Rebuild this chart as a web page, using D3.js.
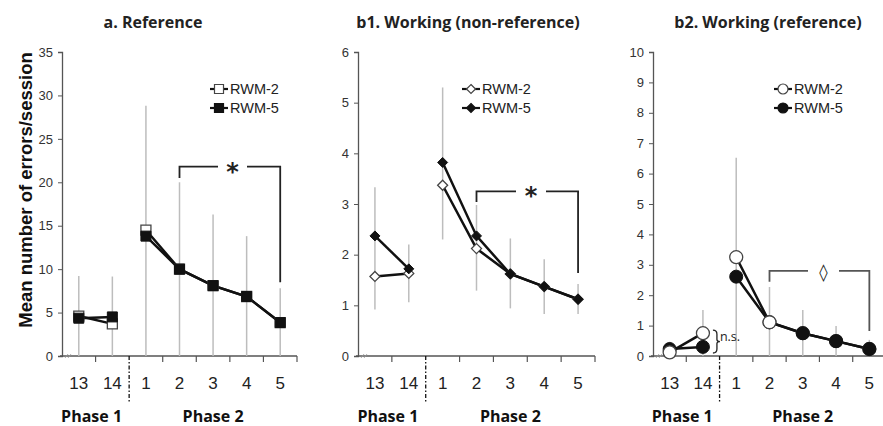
<!DOCTYPE html>
<html>
<head>
<meta charset="utf-8">
<script src="https://cdn.jsdelivr.net/npm/d3@7"></script>
<style>
  body { margin: 0; background: #fff; }
  svg { display: block; }
</style>
</head>
<body>
<svg id="chart"></svg>
<script>
const width = 883;
const height = 426;

// --- data ---
const sessions = ["13", "14", "1", "2", "3", "4", "5"];
const phaseLabels = ["Phase 1", "Phase 2"];
const seriesNames = ["RWM-2", "RWM-5"];

// a. Reference
const refRWM2 = [4.6, 3.7, 14.5, 10.0, 8.1, 6.85, 3.85];
const refRWM5 = [4.35, 4.5, 13.8, 10.0, 8.1, 6.85, 3.85];
const refErrHi = [9.2, 9.15, 28.8, 20.0, 16.3, 13.8, 7.8];
const refErrLo = [0, 0, 0, 0, 0, 0, 0];

// b1. Working (non-reference)
const nonRWM2 = [1.57, 1.63, 3.37, 2.12, 1.62, 1.37, 1.12];
const nonRWM5 = [2.37, 1.72, 3.82, 2.37, 1.62, 1.37, 1.12];
const nonErrHi = [3.33, 2.2, 5.3, 2.98, 2.32, 1.91, 1.42];
const nonErrLo = [0.92, 1.06, 2.3, 1.29, 0.94, 0.83, 0.83];

// b2. Working (reference)
const wrRWM2 = [0.12, 0.75, 3.25, 1.11, 0.75, 0.49, 0.23];
const wrRWM5 = [0.23, 0.3, 2.61, 1.11, 0.75, 0.49, 0.23];
const wrErrHi = [0.47, 1.51, 6.52, 2.27, 1.51, 0.99, 0.53];
const wrErrLo = [0, 0, 0, 0, 0, 0, 0];

const panels = [
  {
    title: "a. Reference", titleX: 153, x0: 62, x1: 297, yMax: 35, yStep: 5,
    rwm2: refRWM2, rwm5: refRWM5, hi: refErrHi, lo: refErrLo,
    marker: "square", legendX: 210, openTop: [],
    bracket: { from: "2", to: "5", top: 21.8, left: 20.5, right: 8.5, sym: "*", gap: [218, 247] }
  },
  {
    title: "b1. Working (non-reference)", titleX: 468, x0: 358, x1: 595, yMax: 6, yStep: 1,
    rwm2: nonRWM2, rwm5: nonRWM5, hi: nonErrHi, lo: nonErrLo,
    marker: "diamond", legendX: 462, openTop: [],
    bracket: { from: "2", to: "5", top: 3.25, left: 3.04, right: 1.64, sym: "*", gap: [516, 546] }
  },
  {
    title: "b2. Working (reference)", titleX: 768, x0: 653, x1: 886, yMax: 10, yStep: 1,
    rwm2: wrRWM2, rwm5: wrRWM5, hi: wrErrHi, lo: wrErrLo,
    marker: "circle", legendX: 774, openTop: [0, 3],
    bracket: { from: "2", to: "5", top: 2.8, left: 2.44, right: 0.82, sym: "\u25CA", gap: [808, 839] }
  }
];

const yTop = 52;
const yBottom = 356;
const sansBold = "'Open Sans', 'Noto Sans', sans-serif";
const arial = "'Liberation Sans', Arial, sans-serif";

const svg = d3.select("#chart")
  .attr("width", width)
  .attr("height", height)
  .style("font-family", arial);

// y axis label shared on the left
svg.append("text")
  .attr("transform", "translate(32,190) rotate(-90)")
  .attr("text-anchor", "middle")
  .attr("font-size", 18.5)
  .attr("font-weight", "bold")
  .attr("fill", "#111")
  .text("Mean number of errors/session");

function markerPath(type, size) {
  if (type === "square") return d3.symbol(d3.symbolSquare, size * size)();
  if (type === "diamond") {
    const h = size / 2;
    return `M0,${-h}L${h},0L0,${h}L${-h},0Z`;
  }
  return d3.symbol(d3.symbolCircle, Math.PI * (size / 2) * (size / 2))();
}

const markerSize = { square: 10, diamond: 10, circle: 13 };

panels.forEach(p => {
  const g = svg.append("g");

  const x = d3.scaleBand().domain(sessions).range([p.x0, p.x1]);
  const y = d3.scaleLinear().domain([0, p.yMax]).range([yBottom, yTop]);
  const cx = s => x(s) + x.bandwidth() / 2;

  // title
  g.append("text")
    .attr("x", p.titleX)
    .attr("y", 28)
    .attr("text-anchor", "middle")
    .attr("font-family", sansBold)
    .attr("font-weight", "bold")
    .attr("font-size", 16)
    .attr("fill", "#222")
    .text(p.title);

  // y axis
  const yAxis = d3.axisLeft(y)
    .tickValues(d3.range(0, p.yMax + 0.001, p.yStep))
    .tickFormat(d3.format("d"))
    .tickSize(4)
    .tickPadding(5);
  const ya = g.append("g")
    .attr("transform", `translate(${p.x0},0)`)
    .call(yAxis);
  ya.select(".domain").attr("stroke", "#555").attr("stroke-width", 1.3);
  ya.selectAll(".tick line").attr("stroke", "#555");
  ya.selectAll(".tick text")
    .attr("font-family", arial)
    .attr("font-size", 13)
    .attr("fill", "#333");

  // x axis line
  g.append("line")
    .attr("x1", p.x0 - 2).attr("x2", p.x1)
    .attr("y1", yBottom).attr("y2", yBottom)
    .attr("stroke", "#555").attr("stroke-width", 1.3);

  // x ticks at band edges (skip the phase boundary, drawn dash-dot below)
  const edges = sessions.map(s => x(s)).concat([p.x1]);
  edges.forEach((ex, i) => {
    if (i === 0 || i === 2) return;
    g.append("line")
      .attr("x1", ex).attr("x2", ex)
      .attr("y1", yBottom).attr("y2", yBottom + 6)
      .attr("stroke", "#555").attr("stroke-width", 1.2);
  });

  // phase separator
  const sepX = x(sessions[2]);
  g.append("line")
    .attr("x1", sepX).attr("x2", sepX)
    .attr("y1", yBottom).attr("y2", 402)
    .attr("stroke", "#111").attr("stroke-width", 1.3)
    .attr("stroke-dasharray", "4,2,1.5,2");

  // axis break marks
  [0, 3].forEach(off => {
    g.append("line")
      .attr("x1", p.x0 + 3 + off).attr("x2", p.x0 + 6 + off)
      .attr("y1", yBottom + 2).attr("y2", yBottom - 2)
      .attr("stroke", "#999").attr("stroke-width", 0.8);
  });

  // session tick labels
  g.selectAll(".xlab")
    .data(sessions)
    .join("text")
    .attr("x", d => cx(d))
    .attr("y", 389)
    .attr("text-anchor", "middle")
    .attr("font-family", arial)
    .attr("font-size", 17)
    .attr("fill", "#222")
    .text(d => d);

  // phase labels
  const phaseX = [
    (cx(sessions[0]) + cx(sessions[1])) / 2 - 4,
    (cx(sessions[2]) + cx(sessions[6])) / 2
  ];
  phaseLabels.forEach((lab, i) => {
    g.append("text")
      .attr("x", phaseX[i])
      .attr("y", 422)
      .attr("text-anchor", "middle")
      .attr("font-family", sansBold)
      .attr("font-weight", "bold")
      .attr("font-size", 16)
      .attr("fill", "#111")
      .text(lab);
  });

  // error bars
  g.selectAll(".err")
    .data(sessions)
    .join("line")
    .attr("x1", d => cx(d)).attr("x2", d => cx(d))
    .attr("y1", (d, i) => y(p.lo[i]))
    .attr("y2", (d, i) => y(p.hi[i]))
    .attr("stroke", "#bdbdbd")
    .attr("stroke-width", 1.5);

  // significance bracket
  const b = p.bracket;
  const bx1 = cx(b.from), bx2 = cx(b.to), by = y(b.top);
  const bColor = p.marker === "circle" ? "#555" : "#222";
  g.append("path")
    .attr("d", `M${bx1},${y(b.left)}V${by}H${b.gap[0]}M${b.gap[1]},${by}H${bx2}V${y(b.right)}`)
    .attr("fill", "none")
    .attr("stroke", bColor)
    .attr("stroke-width", 1.8);
  g.append("text")
    .attr("x", (b.gap[0] + b.gap[1]) / 2)
    .attr("y", b.sym === "*" ? by + 13 : by + 7)
    .attr("text-anchor", "middle")
    .attr("font-family", "'DejaVu Sans', sans-serif")
    .attr("font-weight", b.sym === "*" ? "bold" : "normal")
    .attr("font-size", b.sym === "*" ? 24 : 17)
    .attr("fill", "#222")
    .text(b.sym);

  // lines, split by phase
  const line = d3.line()
    .x(d => cx(d.s))
    .y(d => y(d.v));
  const segs = [[0, 2], [2, 7]];
  [p.rwm2, p.rwm5].forEach(vals => {
    segs.forEach(([a, z]) => {
      const pts = sessions.slice(a, z).map((s, k) => ({ s, v: vals[a + k] }));
      g.append("path")
        .attr("d", line(pts))
        .attr("fill", "none")
        .attr("stroke", "#111")
        .attr("stroke-width", 2.5);
    });
  });

  // markers
  const mPath = markerPath(p.marker, markerSize[p.marker]);
  function drawMarker(s, v, open) {
    g.append("path")
      .attr("d", mPath)
      .attr("transform", `translate(${cx(s)},${y(v)})`)
      .attr("fill", open ? "#fff" : "#111")
      .attr("stroke", open ? "#444" : "#111")
      .attr("stroke-width", open ? 1.3 : 1);
  }
  sessions.forEach((s, i) => { if (!p.openTop.includes(i)) drawMarker(s, p.rwm2[i], true); });
  sessions.forEach((s, i) => drawMarker(s, p.rwm5[i], false));
  sessions.forEach((s, i) => { if (p.openTop.includes(i)) drawMarker(s, p.rwm2[i], true); });

  // legend
  const legMarker = markerPath(p.marker, p.marker === "circle" ? 10 : 9);
  seriesNames.forEach((name, i) => {
    const ly = 89 + i * 19;
    g.append("line")
      .attr("x1", p.legendX).attr("x2", p.legendX + 18)
      .attr("y1", ly).attr("y2", ly)
      .attr("stroke", "#111").attr("stroke-width", 2.2);
    g.append("path")
      .attr("d", legMarker)
      .attr("transform", `translate(${p.legendX + 9},${ly})`)
      .attr("fill", i === 0 ? "#fff" : "#111")
      .attr("stroke", i === 0 ? "#444" : "#111")
      .attr("stroke-width", 1.2);
    g.append("text")
      .attr("x", p.legendX + 20)
      .attr("y", ly + 5)
      .attr("font-family", arial)
      .attr("font-size", 14.5)
      .attr("fill", "#222")
      .text(name);
  });

  // n.s. note in b2 between sessions 13 and 14
  if (p.marker === "circle") {
    const nx = cx(sessions[1]) + 10;
    const t = y(p.rwm2[1]) - 3, bt = y(0) - 3, mid = (t + bt) / 2;
    g.append("path")
      .attr("d", `M${nx},${t}Q${nx + 4},${t} ${nx + 4},${t + 4}V${mid - 2}Q${nx + 4},${mid} ${nx + 7},${mid}Q${nx + 4},${mid} ${nx + 4},${mid + 2}V${bt - 4}Q${nx + 4},${bt} ${nx},${bt}`)
      .attr("fill", "none")
      .attr("stroke", "#222")
      .attr("stroke-width", 1.3);
    g.append("text")
      .attr("x", nx + 7)
      .attr("y", mid - 1)
      .attr("font-family", "'Open Sans', 'DejaVu Sans', sans-serif")
      .attr("font-size", 12.5)
      .attr("fill", "#222")
      .text("n.s.");
  }
});
</script>
</body>
</html>
